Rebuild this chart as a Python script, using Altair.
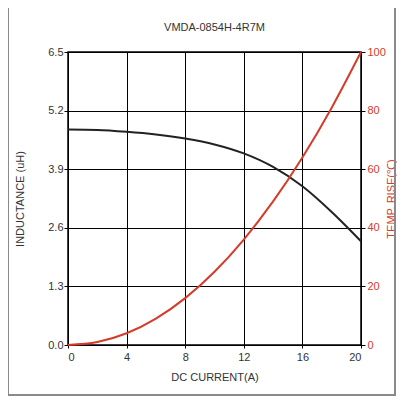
import altair as alt
import pandas as pd

current = [0, 2, 4, 6, 8, 10, 12, 14, 16, 18, 20]
inductance = [4.78, 4.77, 4.73, 4.67, 4.58, 4.45, 4.25, 3.95, 3.52, 2.95, 2.30]
temp_rise = [0, 1, 4, 9, 16, 25, 36, 49, 64, 81, 100]

x_ticks = [0, 4, 8, 12, 16, 20]
l_ticks = [0.0, 1.3, 2.6, 3.9, 5.2, 6.5]
r_ticks = [0, 20, 40, 60, 80, 100]

TITLE = "VMDA-0854H-4R7M"
RED = "#d63a2a"
FONT = "Liberation Sans"

df = pd.DataFrame({"current": current, "ind": inductance, "temp": temp_rise})

xenc = alt.X("current:Q", scale=alt.Scale(domain=[0, 20], nice=False),
             axis=alt.Axis(values=x_ticks, title="DC CURRENT(A)", grid=True,
                           gridColor="black", gridOpacity=1, tickSize=3,
                           labelPadding=3, titlePadding=9))

ind = alt.Chart(df).mark_line(color="#222222", strokeWidth=2, interpolate="monotone").encode(
    x=xenc,
    y=alt.Y("ind:Q", scale=alt.Scale(domain=[0, 6.5], nice=False),
            axis=alt.Axis(values=l_ticks, format=".1f", title="INDUCTANCE (uH)",
                          grid=True, gridColor="black", gridOpacity=1, tickSize=4,
                          labelPadding=1, titlePadding=22)),
)

tmp = alt.Chart(df).mark_line(color=RED, strokeWidth=2, interpolate="monotone").encode(
    x=alt.X("current:Q"),
    y=alt.Y("temp:Q", scale=alt.Scale(domain=[0, 100], nice=False),
            axis=alt.Axis(values=r_ticks, orient="right", title="TEMP. RISE(℃)",
                          grid=False, tickSize=4, labelColor=RED, titleColor=RED,
                          labelPadding=2, titleAngle=270, titleX=30, titleY=146.5,
                          titleAlign="center", titleBaseline="middle")),
)

frame = alt.Chart(df).mark_rect(filled=False, stroke="#8a8a8a", strokeWidth=1.5, clip=False).encode(
    x=alt.value(-60), x2=alt.value(327), y=alt.value(-47), y2=alt.value(343)
)

title = alt.Chart(pd.DataFrame({"t": [TITLE]})).mark_text(
    font=FONT, fontSize=11, color="#333333", baseline="middle", align="center"
).encode(text="t:N", x=alt.value(146.5), y=alt.value(-24))

chart = alt.layer(ind, tmp).resolve_scale(y="independent")
chart = alt.layer(chart, frame, title).properties(
    width=293, height=293,
    autosize=alt.AutoSizeParams(type="none"),
    padding={"left": 60, "top": 44, "right": 36, "bottom": 52},
).configure_view(stroke="black", strokeWidth=1.5).configure_axis(
    labelFont=FONT, titleFont=FONT, labelFontSize=11, titleFontSize=11,
    labelColor="#333333", titleColor="#333333", titleFontWeight="normal",
    domainColor="black", tickColor="black", gridWidth=1
)

chart.save("out.html", embed_options={"renderer": "svg", "actions": False})
